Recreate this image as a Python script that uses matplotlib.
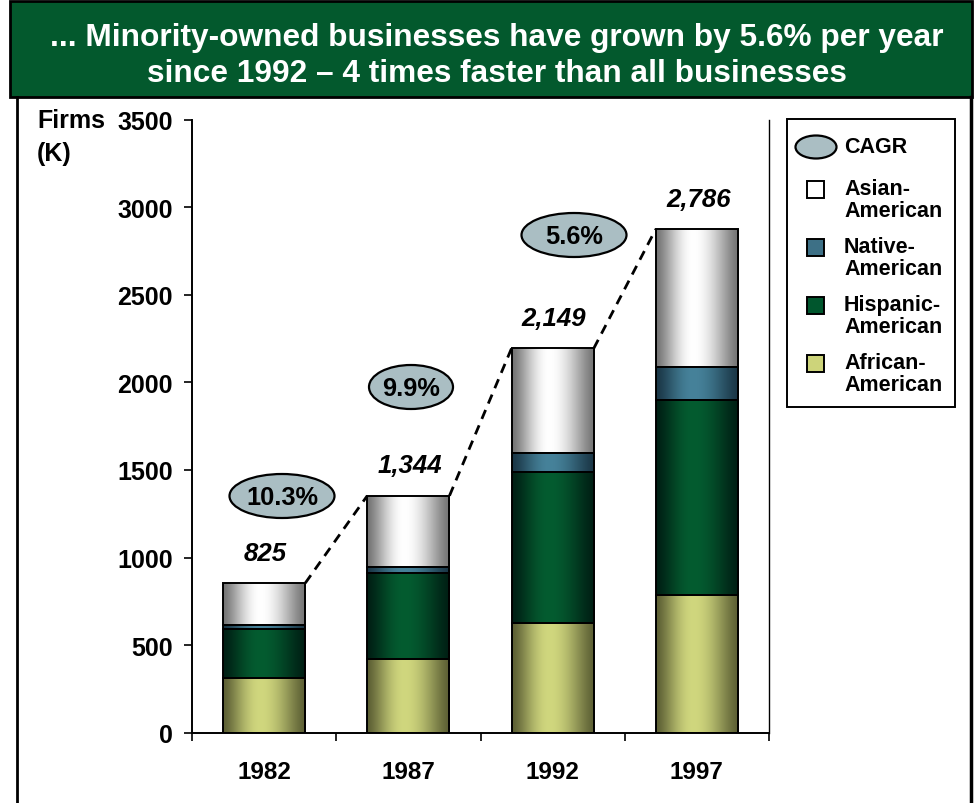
import numpy as np
import matplotlib
matplotlib.use("Agg")
import matplotlib.pyplot as plt
from matplotlib.patches import Rectangle, Ellipse
from matplotlib.lines import Line2D

plt.rcParams['font.family'] = ['Liberation Sans', 'DejaVu Sans']
plt.rcParams['font.weight'] = 'bold'

# ---------------- data ----------------
years = ["1982", "1987", "1992", "1997"]
african = [310, 421, 626, 786]
hispanic = [282, 489, 864, 1113]
native = [24, 34, 105, 189]
asian = [238, 409, 599, 787]
total_labels = ["825", "1,344", "2,149", "2,786"]
cagr_labels = ["10.3%", "9.9%", "5.6%"]
series_names = ["African-\nAmerican", "Hispanic-\nAmerican", "Native-\nAmerican", "Asian-\nAmerican"]
y_ticks = [0, 500, 1000, 1500, 2000, 2500, 3000, 3500]

title = ("... Minority-owned businesses have grown by 5.6% per year\n"
         "since 1992 \u2013 4 times faster than all businesses")

# ---------------- style ----------------
W, H = 980, 804
GREEN = "#03592d"
series_vals = [african, hispanic, native, asian]
dark_cols = ["#5c5f34", "#001f14", "#1a3646", "#747474"]
light_cols = ["#d0d77e", "#045c30", "#46829a", "#ffffff"]
legend_cols = ["#cdd47a", "#00562d", "#3d7086", "#ffffff"]


def px(x, y):
    return x / W, 1 - y / H


def hexrgb(h):
    h = h.lstrip('#')
    return np.array([int(h[i:i + 2], 16) / 255 for i in (0, 2, 4)])


def grad_img(dark, light, n=256, peak=0.45):
    t = np.linspace(0, 1, n)
    u = np.where(t < peak, t / peak, (1 - t) / (1 - peak))
    w = np.sin(u * np.pi / 2) ** 1.4
    d, l = hexrgb(dark), hexrgb(light)
    col = d[None, :] * (1 - w[:, None]) + l[None, :] * w[:, None]
    return col[None, :, :]


fig = plt.figure(figsize=(W / 100, H / 100), dpi=100)

# title box and outer frame
fig.add_artist(Rectangle(px(10, 98), 962 / W, 96 / H, transform=fig.transFigure,
                         facecolor=GREEN, edgecolor="black", lw=2, zorder=0))
fig.add_artist(Line2D([17 / W, 17 / W], [0, 1 - 98 / H], transform=fig.transFigure,
                      color="black", lw=2))
fig.add_artist(Line2D([971 / W, 971 / W], [0, 1 - 98 / H], transform=fig.transFigure,
                      color="black", lw=2.5))
fig.text(*px(497, 56), title, ha="center", va="center", color="white",
         fontsize=22.8, fontweight="bold", linespacing=1.24)

# axes
ax_l, ax_r, ax_t, ax_b = 192, 769, 120.7, 733.7
ax = fig.add_axes([ax_l / W, 1 - ax_b / H, (ax_r - ax_l) / W, (ax_b - ax_t) / H])
x = np.arange(len(years))
width = 0.57
bottom = np.zeros(len(years))
for vals, dc, lc in zip(series_vals, dark_cols, light_cols):
    bars = ax.bar(x, vals, width, bottom=bottom, facecolor="none",
                  edgecolor="black", linewidth=1.4, zorder=3)
    img = grad_img(dc, lc)
    for p in bars.patches:
        x0, y0 = p.get_x(), p.get_y()
        im = ax.imshow(img, extent=[x0, x0 + p.get_width(), y0, y0 + p.get_height()],
                       aspect="auto", interpolation="bilinear", zorder=2)
        im.set_clip_path(p)
    bottom = bottom + np.array(vals)
totals = bottom

# dashed connectors
for i in range(len(years) - 1):
    ax.plot([x[i] + width / 2, x[i + 1] - width / 2], [totals[i], totals[i + 1]],
            color="black", lw=2, linestyle=(0, (3.5, 2.5)), zorder=4)

# total labels
for xi, t, lab in zip(x, totals, total_labels):
    ax.annotate(lab, (xi, t), xytext=(1, 22), textcoords="offset points",
                ha="center", va="center", fontsize=18.5, fontweight="bold",
                fontstyle="italic")

ax.set_xlim(-0.5, len(years) - 0.5)
ax.set_ylim(0, 3500)
ax.set_yticks(y_ticks)
ax.set_yticklabels([str(v) for v in y_ticks])
ax.set_xticks(x)
ax.set_xticklabels(years)
ax.set_xticks(np.arange(-0.5, len(years)), minor=True)
ax.tick_params(axis="x", which="major", length=0, pad=20, labelsize=17.5)
ax.tick_params(axis="x", which="minor", length=6, width=1.2, direction="out")
ax.tick_params(axis="y", which="major", length=6, width=1.2, direction="out",
               pad=8, labelsize=18)
for lab in ax.get_xticklabels() + ax.get_yticklabels():
    lab.set_fontweight("bold")
ax.spines["top"].set_visible(False)
ax.spines["right"].set_linewidth(1.0)
ax.spines["left"].set_linewidth(1.4)
ax.spines["bottom"].set_linewidth(1.4)
ax.patch.set_alpha(0)

fig.text(*px(37, 109), "Firms\n(K)", ha="left", va="top", fontsize=18,
         fontweight="bold", linespacing=1.45)

# CAGR ellipses
ell_pos = [(282, 497, 105), (411, 388, 84), (574, 236, 105)]
for (cx, cy, ew), lab in zip(ell_pos, cagr_labels):
    fig.add_artist(Ellipse(px(cx, cy), ew / W, 44 / H, transform=fig.transFigure,
                           facecolor="#aabec3", edgecolor="black", lw=1.6, zorder=5))
    fig.text(*px(cx, cy + 1), lab, ha="center", va="center", fontsize=18.3,
             fontweight="bold", zorder=6)

# legend
fig.add_artist(Rectangle(px(787, 408), (955 - 787) / W, (408 - 120) / H,
                         transform=fig.transFigure, facecolor="white",
                         edgecolor="black", lw=1.4, zorder=5))
fig.add_artist(Ellipse(px(816, 148), 41 / W, 23 / H, transform=fig.transFigure,
                       facecolor="#aabec3", edgecolor="black", lw=1.6, zorder=6))
fig.text(*px(844, 148), "CAGR", ha="left", va="center", fontsize=15.5,
         fontweight="bold", zorder=6)
leg_y = [190, 248, 306, 364]
for yy, name, col in zip(leg_y, series_names[::-1], legend_cols[::-1]):
    fig.add_artist(Rectangle(px(807, yy + 9), 17 / W, 17 / H, transform=fig.transFigure,
                             facecolor=col, edgecolor="black", lw=1.4, zorder=6))
    fig.text(*px(844, yy - 11), name, ha="left", va="top", fontsize=15.5,
             fontweight="bold", linespacing=1.05, zorder=6)

fig.savefig("out.png", dpi=100)
